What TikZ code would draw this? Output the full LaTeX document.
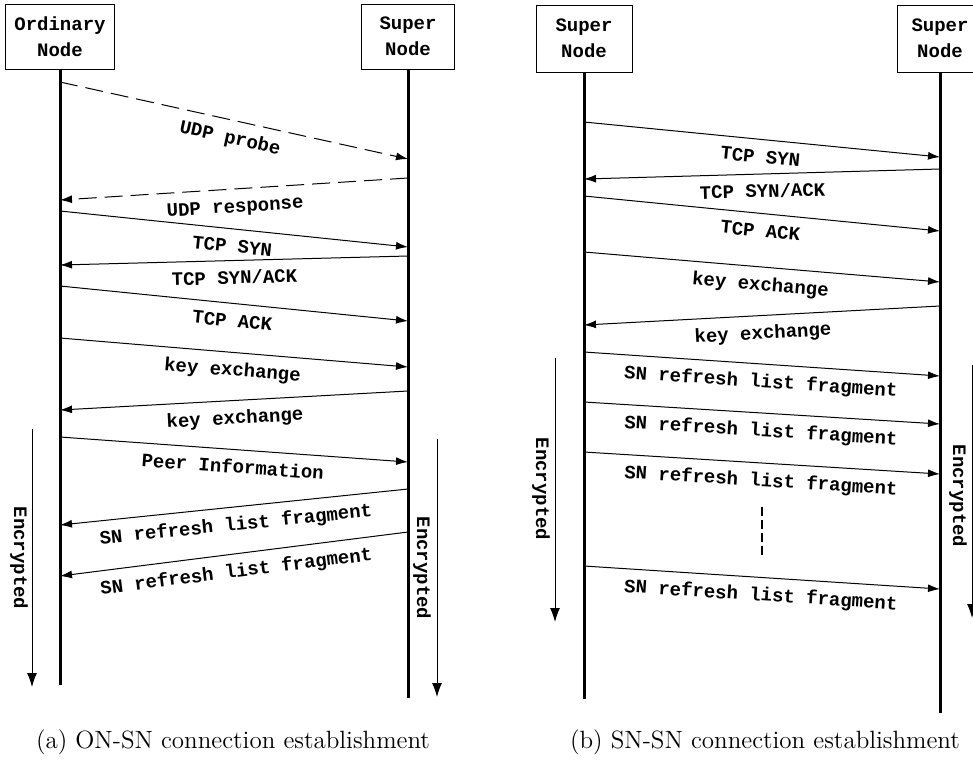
\documentclass[tikz,border=0pt]{standalone}
\usepackage{fontspec}
\newfontfamily\msgfont{Liberation Mono}
\usetikzlibrary{arrows.meta,shapes,positioning}

\begin{document}
\begin{tikzpicture}[
        x=0.5pt, y=-0.5pt,
        every path/.style={line width=0.5pt},
        peer/.style={draw, line width=0.5pt, align=center, inner sep=2pt,
            font=\msgfont\bfseries\fontsize{9.5}{13}\selectfont, minimum height=32.5pt},
        life/.style={line width=1.5pt},
        msg/.style={-{Latex[length=6pt,width=4pt]}},
        probe/.style={msg, dash pattern=on 9pt off 4pt},
        msglabel/.style={font=\msgfont\bfseries\fontsize{9.5}{11}\selectfont, sloped, below=4.5pt,
            inner sep=1pt, text height=6pt, text depth=2pt},
        enc/.style={-{Latex[length=7pt,width=5pt]}},
        enclabel/.style={font=\msgfont\bfseries\fontsize{9.5}{11}\selectfont, rotate=-90},
        gap/.style={line width=1.2pt, dash pattern=on 4.5pt off 2pt},
        caption/.style={font=\fontsize{12.5}{14}\selectfont}
    ]
    \useasboundingbox (0,0) rectangle (973,767);

    % Nodes
    \node[peer, minimum width=54.5pt] (ordinary) at (60,36.5) {Ordinary\\Node};
    \node[peer, minimum width=46.5pt] (super) at (408,36.5) {Super\\Node};
    \node[peer, minimum width=48pt, minimum height=33.5pt] (superL) at (584,38.5) {Super\\Node};
    \node[peer, minimum width=43pt, minimum height=33.5pt] (superR) at (940,38.5) {Super\\Node};

    \coordinate (ordinaryEnd) at (60,685);
    \coordinate (superEnd) at (408,698);
    \coordinate (superLEnd) at (584,699);
    \coordinate (superREnd) at (940,713);

    % Lifelines
    \draw[life] (ordinary) -- (ordinaryEnd);
    \draw[life] (super) -- (superEnd);
    \draw[life] (superL) -- (superLEnd);
    \draw[life] (superR) -- (superREnd);

    % (a) ON-SN
    \draw[probe] (ordinary |- 0,82) -- node[msglabel] {UDP probe} (super |- 0,159);
    \draw[probe] (super |- 0,178) -- node[msglabel] {UDP response} (ordinary |- 0,200);
    \draw[msg] (ordinary |- 0,211) -- node[msglabel] {TCP SYN} (super |- 0,247);
    \draw[msg] (super |- 0,256) -- node[msglabel] {TCP SYN/ACK} (ordinary |- 0,265);
    \draw[msg] (ordinary |- 0,286) -- node[msglabel] {TCP ACK} (super |- 0,321);
    \draw[msg] (ordinary |- 0,338) -- node[msglabel] {key exchange} (super |- 0,367);
    \draw[msg] (super |- 0,391) -- node[msglabel] {key exchange} (ordinary |- 0,410);
    \draw[msg] (ordinary |- 0,437) -- node[msglabel] {Peer Information} (super |- 0,462);
    \draw[msg] (super |- 0,489) -- node[msglabel] {SN refresh list fragment} (ordinary |- 0,525);
    \draw[msg] (super |- 0,532) -- node[msglabel] {SN refresh list fragment} (ordinary |- 0,576);

    \coordinate (encAlTop) at (32,429);
    \coordinate (encAlEnd) at (32,687);
    \coordinate (encArTop) at (437,439);
    \coordinate (encArEnd) at (437,697);
    \draw[enc] (encAlTop) -- (encAlEnd);
    \draw[enc] (encArTop) -- (encArEnd);
    \node[enclabel] (encAl) at (19,558) {Encrypted};
    \node[enclabel] (encAr) at (422,568) {Encrypted};

    % (b) SN-SN
    \draw[msg] (superL |- 0,122) -- node[msglabel] {TCP SYN} (superR |- 0,157);
    \draw[msg] (superR |- 0,169) -- node[msglabel] {TCP SYN/ACK} (superL |- 0,179);
    \draw[msg] (superL |- 0,196) -- node[msglabel] {TCP ACK} (superR |- 0,231);
    \draw[msg] (superL |- 0,252) -- node[msglabel] {key exchange} (superR |- 0,282);
    \draw[msg] (superR |- 0,306) -- node[msglabel] {key exchange} (superL |- 0,325);
    \draw[msg] (superL |- 0,352) -- node[msglabel] {SN refresh list fragment} (superR |- 0,376);
    \draw[msg] (superL |- 0,402) -- node[msglabel] {SN refresh list fragment} (superR |- 0,424);
    \draw[msg] (superL |- 0,452) -- node[msglabel] {SN refresh list fragment} (superR |- 0,474);
    \draw[msg] (superL |- 0,566) -- node[msglabel] (lastB) {SN refresh list fragment} (superR |- 0,589);

    \coordinate (gapTop) at (762,507);
    \coordinate (gapEnd) at (762,555);
    \draw[gap] (gapTop) -- (gapEnd);

    \coordinate (encBlTop) at (555,358);
    \coordinate (encBlEnd) at (555,622);
    \coordinate (encBrTop) at (972,365);
    \coordinate (encBrEnd) at (972,618);
    \draw[enc] (encBlTop) -- (encBlEnd);
    \draw[enc] (encBrTop) -- (encBrEnd);
    \node[enclabel] (encBl) at (541,489) {Encrypted};
    \node[enclabel] (encBr) at (958,496) {Encrypted};

    % Captions
    \node[caption] (capA) at (233,742) {(a) ON-SN connection establishment};
    \node[caption] (capB) at (765,742) {(b) SN-SN connection establishment};

\end{tikzpicture}
\end{document}
